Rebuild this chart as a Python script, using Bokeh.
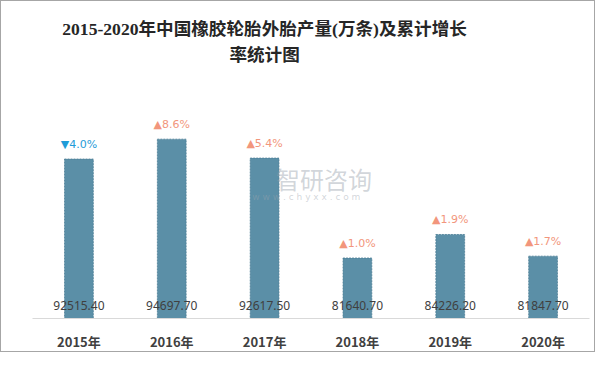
from bokeh.plotting import figure
from bokeh.models import Range1d, ColumnDataSource, FactorRange
from bokeh.transform import dodge
from bokeh.core.properties import value
from bokeh.embed import file_html
from bokeh.resources import INLINE

# ---- data ----
years = ["2015年", "2016年", "2017年", "2018年", "2019年", "2020年"]
output = [92515.40, 94697.70, 92617.50, 81640.70, 84226.20, 81847.70]
growth = [-4.0, 8.6, 5.4, 1.0, 1.9, 1.7]
title_lines = ["2015-2020年中国橡胶轮胎外胎产量(万条)及累计增长", "率统计图"]
watermark_main = "智研咨询"
watermark_sub = "w w w . c h y x x . c o m"

# ---- styles ----
Y_START = 75000
Y_END = 109816
BAR_COLOR = "#5B8FA7"
UP_COLOR = "#F2967C"
DOWN_COLOR = "#1F9CD8"
TITLE_FONT = "'Liberation Serif', 'Noto Sans CJK SC'"

vlabels = [f"{v:.2f}" for v in output]
glabels = [("▲" if g >= 0 else "▼") + f"{abs(g):.1f}%" for g in growth]
gcolors = [UP_COLOR if g >= 0 else DOWN_COLOR for g in growth]

src = ColumnDataSource(dict(year=years, output=output, vlabel=vlabels,
                            glabel=glabels, gcolor=gcolors))

p = figure(width=595, height=352, x_range=FactorRange(*years),
           y_range=Range1d(Y_START, Y_END), output_backend="svg",
           toolbar_location=None, min_border=0, min_border_left=31,
           min_border_right=7, min_border_top=0, min_border_bottom=32)

p.vbar(x="year", top="output", bottom=Y_START, width=0.31, source=src,
       fill_color=BAR_COLOR, line_color="#4C7E96", line_dash="2 1", line_width=0.8)

# value labels near the bottom of each bar
p.text(x="year", y=Y_START, text="vlabel", source=src, y_offset=-13,
       text_align="center", text_baseline="middle",
       text_font=value("Noto Sans"), text_font_size="12px", text_color="#404040")

# growth labels above each bar
p.text(x="year", y="output", text="glabel", source=src, y_offset=-15,
       text_align="center", text_baseline="middle",
       text_font=value("DejaVu Sans"), text_font_size="11px", text_color="gcolor")

# title
p.text(x=["2017年"], y=[Y_END], text=[title_lines[0]], y_offset=27,
       text_align="center", text_baseline="middle",
       text_font=value(TITLE_FONT), text_font_style="bold",
       text_font_size="17.6px", text_color="#262626")
p.text(x=["2017年"], y=[Y_END], text=[title_lines[1]], y_offset=53,
       text_align="center", text_baseline="middle",
       text_font=value(TITLE_FONT), text_font_style="bold",
       text_font_size="17.6px", text_color="#262626")

# watermark
p.text(x=dodge("x", -0.36, range=p.x_range), y="y",
       source=ColumnDataSource(dict(x=["2018年"], y=[Y_END], t=[watermark_main])),
       text="t", y_offset=177, text_align="center", text_baseline="middle",
       text_font=value("Noto Sans CJK SC"), text_font_size="24px",
       text_color="#9AA3AD", text_alpha=0.45)
p.text(x=dodge("x", 0.45, range=p.x_range), y="y",
       source=ColumnDataSource(dict(x=["2017年"], y=[Y_END], t=[watermark_sub])),
       text="t", y_offset=195, text_align="center", text_baseline="middle",
       text_font=value("DejaVu Sans"), text_font_size="9px",
       text_color="#9AA3AD", text_alpha=0.45)

# axes
p.yaxis.visible = False
p.xgrid.visible = False
p.ygrid.visible = False
p.outline_line_color = None
p.xaxis.axis_line_color = "#D9D9D9"
p.xaxis.major_tick_line_color = None
p.xaxis.minor_tick_line_color = None
p.xaxis.major_label_standoff = 7
p.xaxis.major_label_text_font = "Noto Sans CJK SC"
p.xaxis.major_label_text_font_style = "bold"
p.xaxis.major_label_text_font_size = "13px"
p.xaxis.major_label_text_color = "#404040"

p.styles = {"border": "1px solid #A6A6A6", "box-sizing": "border-box"}

open("out.html", "w").write(file_html(p, INLINE))
